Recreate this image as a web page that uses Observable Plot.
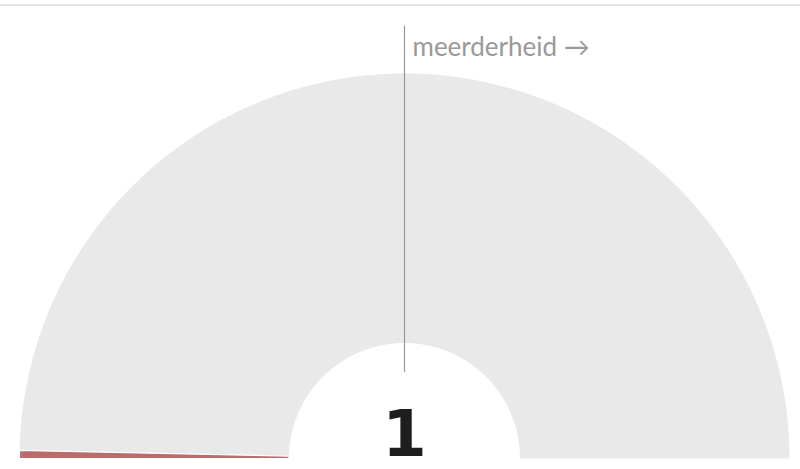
<!DOCTYPE html>
<html>
<head>
<meta charset="utf-8">
<script src="https://cdn.jsdelivr.net/npm/d3@7"></script>
<script src="https://cdn.jsdelivr.net/npm/@observablehq/plot@0.6"></script>
<style>
  html, body { margin: 0; padding: 0; background: #fff; }
  #wrap { width: 800px; height: 469px; overflow: hidden; }
  #rule { margin-top: 4px; border-top: 2px solid #e2e2e2; }
</style>
</head>
<body>
<div id="wrap"><div id="rule"></div><div id="chart"></div></div>
<script>
// ---- data ----
const parties = ["partij"];
const seats = [1];
const partyColors = ["#ba6b6b"];
const totalSeats = 150;
const majority = 76;
const majorityLabel = "meerderheid \u2192";
const centerLabel = "1";

// ---- geometry helpers (derived from data) ----
const innerR = 0.30;
const outerR = 1.0;
const seatAngle = s => Math.PI - Math.PI * s / totalSeats;
function wedge(key, s0, s1) {
  const a0 = seatAngle(s0), a1 = seatAngle(s1);
  const n = Math.max(2, Math.ceil(Math.abs(a1 - a0) / 0.01));
  const pts = [];
  for (let i = 0; i <= n; i++) {
    const a = a0 + (a1 - a0) * i / n;
    pts.push({key, x: outerR * Math.cos(a), y: outerR * Math.sin(a)});
  }
  for (let i = n; i >= 0; i--) {
    const a = a0 + (a1 - a0) * i / n;
    pts.push({key, x: innerR * Math.cos(a), y: innerR * Math.sin(a)});
  }
  pts.push({...pts[0]});
  return pts;
}

const background = wedge("bg", 0, totalSeats);
let cum = 0;
const partyPts = [];
parties.forEach((p, i) => {
  partyPts.push(...wedge(p, cum, cum + seats[i]).map(d => ({...d, color: partyColors[i]})));
  cum += seats[i];
});
const majA = seatAngle(majority - 1);
const majLine = [{x: Math.cos(majA) * 0.225, y: 0.225, x2: Math.cos(majA) * 1.125, y2: 1.125}];

const px = 385; // pixels per radius unit
const cx = 404, cy = 452;
const W = 800, H = 463;

const chart = Plot.plot({
  width: W, height: H,
  margin: 0,
  x: {domain: [-cx / px, (W - cx) / px], axis: null},
  y: {domain: [-(H - cy) / px, cy / px], axis: null},
  marks: [
    Plot.line(background, {x: "x", y: "y", z: "key", fill: "#e9e9e9", stroke: "none", curve: "linear"}),
    Plot.line(partyPts, {x: "x", y: "y", z: "key", fill: "color", stroke: "white", strokeWidth: 1.2, curve: "linear"}),
    Plot.link(majLine, {x1: "x", y1: "y", x2: "x2", y2: "y2", stroke: "#9a9a9a", strokeWidth: 1.2}),
    Plot.text([majorityLabel], {x: majLine[0].x2, y: majLine[0].y2, text: d => d, textAnchor: "start", dx: 8, dy: 22, fontSize: 26, fontWeight: 400, fill: "#999999", fontFamily: "Lato, sans-serif"}),
    Plot.text([centerLabel], {x: 0, y: 0, text: d => d, textAnchor: "middle", lineAnchor: "bottom", dy: -3, fontSize: 64, fontWeight: 900, fill: "#1e1e1e", fontFamily: "DejaVu Sans, sans-serif"})
  ]
});
document.getElementById("chart").appendChild(chart);
</script>
</body>
</html>
